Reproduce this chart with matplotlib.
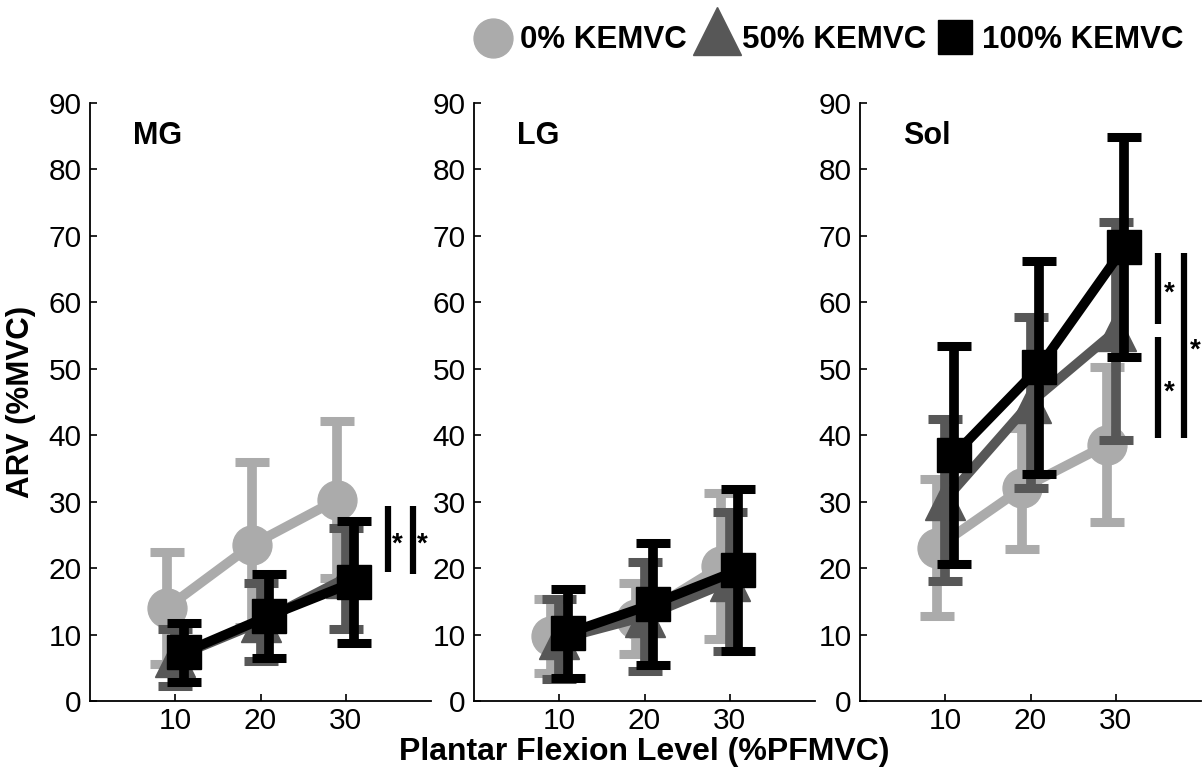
import matplotlib
matplotlib.use("Agg")
import matplotlib.pyplot as plt
from matplotlib.lines import Line2D

plt.rcParams['font.family'] = ['Liberation Sans', 'DejaVu Sans']

# Plantar flexion levels (%PFMVC)
levels = [10, 20, 30]
muscles = ["MG", "LG", "Sol"]
conditions = ["0% KEMVC", "50% KEMVC", "100% KEMVC"]

# ARV (%MVC), mean and SD per condition, for each muscle
mg_mean_0 = [14.0, 23.5, 30.3]
mg_sd_0 = [8.4, 12.4, 11.8]
mg_mean_50 = [6.6, 11.9, 18.5]
mg_sd_50 = [4.3, 5.9, 7.6]
mg_mean_100 = [7.3, 12.8, 17.9]
mg_sd_100 = [4.4, 6.3, 9.2]

lg_mean_0 = [9.8, 12.4, 20.3]
lg_sd_0 = [5.6, 5.3, 11.0]
lg_mean_50 = [9.3, 12.7, 18.0]
lg_sd_50 = [6.0, 8.2, 10.5]
lg_mean_100 = [10.2, 14.6, 19.7]
lg_sd_100 = [6.7, 9.2, 12.2]

sol_mean_0 = [23.1, 32.0, 38.6]
sol_sd_0 = [10.3, 9.1, 11.6]
sol_mean_50 = [30.3, 44.9, 55.7]
sol_sd_50 = [12.2, 12.9, 16.4]
sol_mean_100 = [37.0, 50.2, 68.3]
sol_sd_100 = [16.4, 16.0, 16.6]

means = {
    "MG": [mg_mean_0, mg_mean_50, mg_mean_100],
    "LG": [lg_mean_0, lg_mean_50, lg_mean_100],
    "Sol": [sol_mean_0, sol_mean_50, sol_mean_100],
}
sds = {
    "MG": [mg_sd_0, mg_sd_50, mg_sd_100],
    "LG": [lg_sd_0, lg_sd_50, lg_sd_100],
    "Sol": [sol_sd_0, sol_sd_50, sol_sd_100],
}

# Significance brackets: (x, y_low, y_high) and star positions (x, y)
sig_bars = {
    "MG": [(34.9, 19.4, 29.3), (37.9, 19.1, 29.3)],
    "LG": [],
    "Sol": [(34.9, 56.7, 67.4), (34.9, 39.6, 54.8), (38.0, 39.6, 67.4)],
}
sig_stars = {
    "MG": [(36.1, 25.1), (39.0, 25.1)],
    "LG": [],
    "Sol": [(36.3, 62.9), (36.3, 48.0), (39.3, 54.3)],
}

colors = ["#ababab", "#575757", "#000000"]
markers = ["o", "^", "s"]
msizes = [28, 29, 25]
x_shift = [-1.0, 0.0, 1.0]

fig = plt.figure(figsize=(12.04, 7.71), dpi=100)
W, H = 1204.0, 771.0
lefts = [90, 474, 860]
ax_w, ax_bottom, ax_top = 341, 701, 103

axes = []
for i, name in enumerate(muscles):
    ax = fig.add_axes([lefts[i] / W, 1 - ax_bottom / H, ax_w / W, (ax_bottom - ax_top) / H])
    axes.append(ax)
    for k in range(3):
        xs = [lv + x_shift[k] for lv in levels]
        ax.errorbar(xs, means[name][k], yerr=sds[name][k], fmt="none",
                    ecolor=colors[k], elinewidth=7, capsize=12.5, capthick=6.5,
                    zorder=2 + 2 * k)
        ax.plot(xs, means[name][k], color=colors[k], lw=7, marker=markers[k],
                ms=msizes[k], mfc=colors[k], mec=colors[k], zorder=3 + 2 * k)
    for (bx, y0, y1) in sig_bars[name]:
        ax.plot([bx, bx], [y0, y1], color="black", lw=4.5, solid_capstyle="butt",
                zorder=10, clip_on=False)
    for (sx, sy) in sig_stars[name]:
        ax.text(sx, sy - 2.6, "*", ha="center", va="baseline", fontsize=20,
                fontweight="bold", zorder=11, clip_on=False)

    ax.text(5, 85, name, ha="left", va="center", fontsize=22, fontweight="bold")
    ax.set_xlim(0, 40)
    ax.set_ylim(0, 90)
    ax.set_xticks(levels)
    ax.set_yticks(range(0, 91, 10))
    ax.spines["top"].set_visible(False)
    ax.spines["right"].set_visible(False)
    for sp in ("left", "bottom"):
        ax.spines[sp].set_linewidth(1.3)
    ax.tick_params(direction="in", length=5, width=1.2, labelsize=21.5)
    ax.tick_params(axis="y", pad=6)
    ax.tick_params(axis="x", pad=4)

axes[0].set_ylabel("ARV (%MVC)", fontsize=22.5, fontweight="bold")
axes[0].yaxis.set_label_coords((36 - 90) / ax_w, 0.5)
axes[1].set_xlabel("Plantar Flexion Level (%PFMVC)", fontsize=23, fontweight="bold",
                   labelpad=2)

# Legend row across the top: marker key followed by its label
key_marker_pos = [(493, 38), (717, 31), (955, 36.5)]
key_marker_size = [28, 34, 24.5]
key_text_left = [520, 742, 982]
key_baseline = 48
for k in range(3):
    mx, my = key_marker_pos[k]
    fig.add_artist(Line2D([mx / W], [1 - my / H], transform=fig.transFigure,
                          linestyle="none", marker=markers[k], ms=key_marker_size[k],
                          mfc=colors[k], mec=colors[k]))
    fig.text(key_text_left[k] / W, 1 - key_baseline / H, conditions[k],
             ha="left", va="baseline", fontsize=22.5, fontweight="bold")

fig.savefig("out.png", dpi=100)
